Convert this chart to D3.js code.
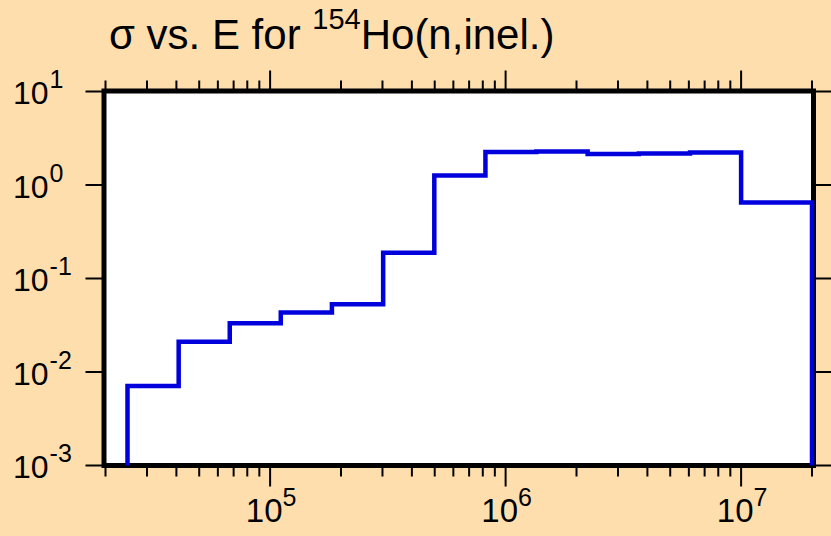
<!DOCTYPE html>
<html>
<head>
<meta charset="utf-8">
<script src="https://cdn.jsdelivr.net/npm/d3@7"></script>
<style>
  html, body { margin: 0; padding: 0; background: #FFDEAD; }
  svg { display: block; }
  text { font-family: "Liberation Sans", Arial, sans-serif; fill: #000; }
</style>
</head>
<body>
<svg id="chart" width="831" height="536"></svg>
<script>
// Group boundaries (eV) and cross sections (barns)
const energyEdges = [2.48e4, 4.09e4, 6.74e4, 1.11e5, 1.83e5, 3.02e5, 4.98e5, 8.21e5, 1.35e6, 2.23e6, 3.68e6, 6.07e6, 1.0e7, 2.0e7];
const sigmaValues = [0.0071, 0.0211, 0.0332, 0.0432, 0.0531, 0.189, 1.26, 2.26, 2.28, 2.15, 2.17, 2.22, 0.649];
const xDomain = [2e4, 2e7];
const yDomain = [1e-3, 1e1];
const xMajorTicks = [1e5, 1e6, 1e7];
const xMajorLabels = ["5", "6", "7"];
const yMajorTicks = [1e1, 1e0, 1e-1, 1e-2, 1e-3];
const yMajorLabels = ["1", "0", "-1", "-2", "-3"];
const titleParts = ["σ vs. E for ", "154", "Ho(n,inel.)"];

const svg = d3.select("#chart");
const L = 105.5, R = 812, T = 91.5, B = 465.5;

const x = d3.scaleLog().domain(xDomain).range([L, R]);
const y = d3.scaleLog().domain(yDomain).range([B, T]);

// plot background
svg.append("rect").attr("x", L).attr("y", T).attr("width", R - L).attr("height", B - T)
  .attr("fill", "#fff");

// minor ticks on x
const xMinor = [];
for (let e = 4; e <= 7; e++) {
  for (let m = 2; m <= 9; m++) {
    const v = m * Math.pow(10, e);
    if (v >= xDomain[0] * 0.999 && v <= xDomain[1] * 1.001) xMinor.push(v);
  }
}

const ticks = svg.append("g").attr("stroke", "#000").attr("stroke-width", 2);
xMinor.forEach(v => {
  ticks.append("line").attr("x1", x(v)).attr("x2", x(v)).attr("y1", B).attr("y2", B + 11);
  ticks.append("line").attr("x1", x(v)).attr("x2", x(v)).attr("y1", T).attr("y2", T - 11);
});
xMajorTicks.forEach(v => {
  ticks.append("line").attr("x1", x(v)).attr("x2", x(v)).attr("y1", B).attr("y2", B + 21);
  ticks.append("line").attr("x1", x(v)).attr("x2", x(v)).attr("y1", T).attr("y2", T - 21);
});
yMajorTicks.forEach(v => {
  ticks.append("line").attr("x1", L).attr("x2", L - 20).attr("y1", y(v)).attr("y2", y(v));
  ticks.append("line").attr("x1", R).attr("x2", R + 20).attr("y1", y(v)).attr("y2", y(v));
});

// frame
svg.append("rect").attr("x", L - 1.5).attr("y", T - 0.5).attr("width", R - L + 3).attr("height", B - T + 0.5)
  .attr("fill", "none").attr("stroke", "#000").attr("stroke-width", 5);

// step line
const pts = [[energyEdges[0], yDomain[0]]];
sigmaValues.forEach((s, i) => {
  pts.push([energyEdges[i], s]);
  pts.push([energyEdges[i + 1], s]);
});
pts.push([energyEdges[energyEdges.length - 1], yDomain[0]]);
const line = d3.line().x(d => x(d[0])).y(d => y(d[1]));
svg.append("path").attr("d", line(pts)).attr("fill", "none")
  .attr("stroke", "#0000dd").attr("stroke-width", 4.5).attr("stroke-linejoin", "miter");

// x labels
xMajorTicks.forEach((v, i) => {
  const t = svg.append("text").attr("x", x(v) + 1).attr("y", 522).attr("text-anchor", "middle")
    .style("font-size", "33px");
  t.append("tspan").text("10");
  t.append("tspan").attr("dy", -16).style("font-size", "25px").text(xMajorLabels[i]);
});

// y labels
yMajorTicks.forEach((v, i) => {
  const t = svg.append("text").attr("x", 13).attr("y", y(v) + 12.5).style("font-size", "32px");
  t.append("tspan").text("10");
  t.append("tspan").attr("dx", 1).attr("dy", -16).style("font-size", "25px").text(yMajorLabels[i]);
});

// title
const title = svg.append("text").attr("x", 109).attr("y", 49).style("font-size", "42px");
title.append("tspan").text(titleParts[0]);
title.append("tspan").attr("dy", -20).style("font-size", "29px").text(titleParts[1]);
title.append("tspan").attr("dy", 20).text(titleParts[2]);
</script>
</body>
</html>
